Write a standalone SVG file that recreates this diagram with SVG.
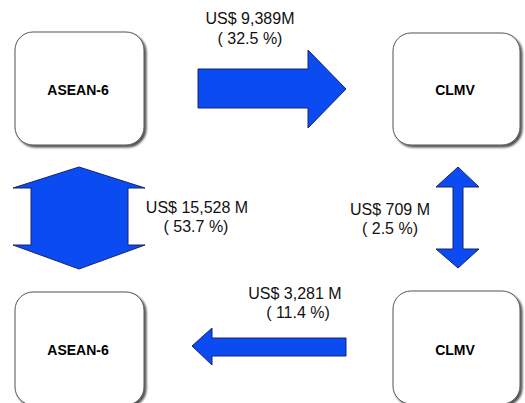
<svg xmlns="http://www.w3.org/2000/svg" width="525" height="403" viewBox="0 0 525 403">
<defs>
<filter id="sh" x="-10%" y="-10%" width="130%" height="130%">
<feGaussianBlur in="SourceAlpha" stdDeviation="1.2"/>
<feOffset dx="1.5" dy="1.5" result="b"/>
<feComponentTransfer><feFuncA type="linear" slope="0.7"/></feComponentTransfer>
<feMerge><feMergeNode/><feMergeNode in="SourceGraphic"/></feMerge>
</filter>
</defs>
<style>
.box{fill:#fff;stroke:#555;stroke-width:1;filter:url(#sh)}
.lbl{font-family:"Liberation Sans",Arial,sans-serif;font-weight:bold;font-size:14px;fill:#000;text-anchor:middle}
.val{font-family:"Liberation Sans",Arial,sans-serif;font-size:16px;fill:#111;text-anchor:middle}
.arr{fill:#0B4BF2;stroke:#1a2466;stroke-width:1}
</style>
<rect width="525" height="403" fill="#fff"/>
<g id="asean6-top"><rect class="box" x="15" y="32" width="129" height="113" rx="18"/><text class="lbl" x="78" y="95">ASEAN-6</text></g>
<g id="clmv-top"><rect class="box" x="393" y="33" width="127" height="112" rx="18"/><text class="lbl" x="455" y="95">CLMV</text></g>
<g id="asean6-bottom"><rect class="box" x="15" y="292" width="129" height="113" rx="18"/><text class="lbl" x="78" y="355">ASEAN-6</text></g>
<g id="clmv-bottom"><rect class="box" x="393" y="291" width="127" height="113" rx="18"/><text class="lbl" x="455" y="355">CLMV</text></g>
<g id="connectors">
<polygon class="arr" points="198,69 308,69 308,50 346,89 308,128 308,108 198,108"/>
<polygon class="arr" points="79,167 145,188 128,188 128,245 145,245 79,269 13,245 31,245 31,188 13,188"/>
<polygon class="arr" points="458,167 479,187 463,187 463,249 479,249 458,268 436,249 453,249 453,187 436,187"/>
<polygon class="arr" points="346,338 212,338 212,328 192,346 212,365 212,356 346,356"/>
<text class="val" x="250" y="24">US$ 9,389M</text>
<text class="val" x="250" y="44">( 32.5 %)</text>
<text class="val" x="197" y="213">US$ 15,528 M</text>
<text class="val" x="196" y="232">( 53.7 %)</text>
<text class="val" x="390" y="215">US$ 709 M</text>
<text class="val" x="390" y="234">( 2.5 %)</text>
<text class="val" x="295" y="299">US$ 3,281 M</text>
<text class="val" x="298" y="318">( 11.4 %)</text>
</g>
</svg>
